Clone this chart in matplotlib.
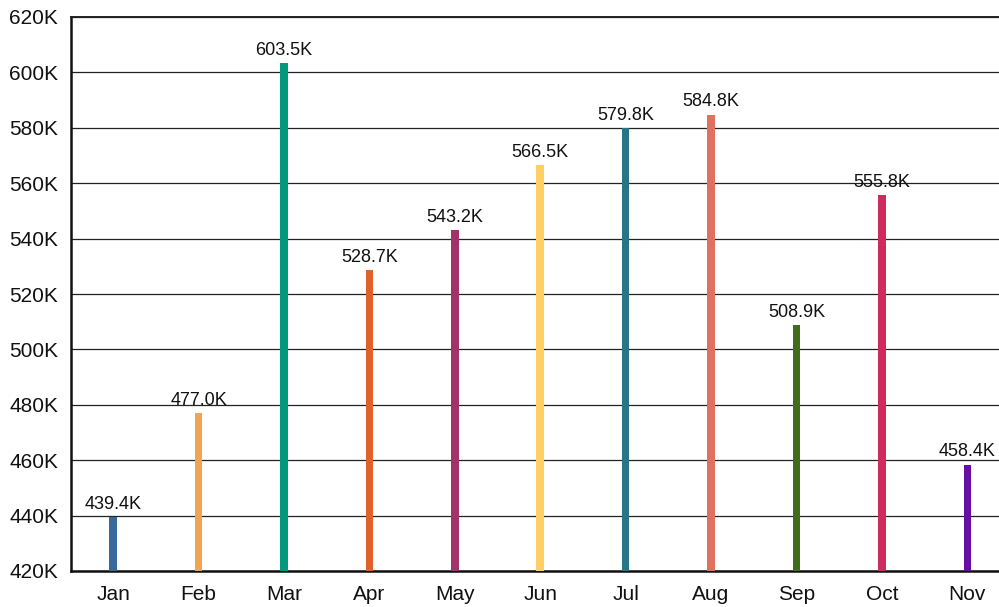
import matplotlib
matplotlib.use("Agg")
import matplotlib.pyplot as plt

months = ["Jan", "Feb", "Mar", "Apr", "May", "Jun", "Jul", "Aug", "Sep", "Oct", "Nov"]
values = [439.4, 477.0, 603.5, 528.7, 543.2, 566.5, 579.8, 584.8, 508.9, 555.8, 458.4]
colors = ["#39689a", "#f1a554", "#00997a", "#e0622a", "#a3326a", "#fdcf64",
          "#2a7487", "#e07060", "#3e6e1b", "#cd2c5c", "#6a0ca6"]
yticks = [420, 440, 460, 480, 500, 520, 540, 560, 580, 600, 620]

plt.rcParams['font.family'] = ['Liberation Sans', 'DejaVu Sans']

fig = plt.figure(figsize=(9.99, 6.07), dpi=100)
W, H = 999, 607
left, right, top, bottom = 70.5, 1010, 17, 571
ax = fig.add_axes([left / W, 1 - bottom / H, (right - left) / W, (bottom - top) / H])

x = list(range(len(months)))
ax.bar(x, [v - 420 for v in values], bottom=420, width=0.088, color=colors, zorder=3)
for xi, v in zip(x, values):
    ax.text(xi, v + 1.5, f"{v:.1f}K", ha="center", va="bottom", fontsize=13, color="#111111", zorder=4)

ax.set_xlim(-0.5, len(months) - 0.5)
ax.set_ylim(420, 620)
ax.set_yticks(yticks)
ax.set_yticklabels([f"{t}K" for t in yticks])
ax.set_xticks(x)
ax.set_xticklabels(months)
ax.tick_params(axis="both", length=0, labelsize=15, colors="#111111")
ax.tick_params(axis="x", pad=10)
ax.tick_params(axis="y", pad=9)
ax.yaxis.grid(True, color="#222222", linewidth=0.9, zorder=0)
ax.set_axisbelow(True)
for s in ["left", "bottom"]:
    ax.spines[s].set_linewidth(1.8)
    ax.spines[s].set_color("#111111")
ax.spines["top"].set_linewidth(1.4)
ax.spines["top"].set_color("#222222")
ax.spines["right"].set_visible(False)

fig.savefig("out.png", dpi=100)
